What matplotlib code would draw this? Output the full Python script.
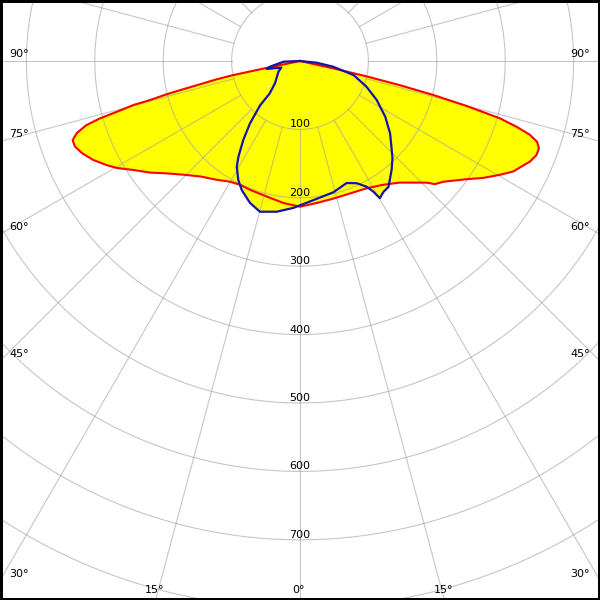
import numpy as np
import matplotlib
matplotlib.use("Agg")
import matplotlib.pyplot as plt
from matplotlib.patches import Rectangle

# ---- data: luminous intensity (cd) vs. gamma angle (deg), signed: left <0, right >0
red_angles = [-79.0, -78.3, -78.1, -77.6, -76.9, -76.4, -76.0, -75.4, -75.2, -74.5,
              -74.0, -73.3, -72.1, -70.8, -69.2, -67.1, -64.4, -61.7, -59.7, -56.8,
              -53.3, -49.9, -45.7, -40.8, -35.0, -30.1, -25.8, -21.2, -13.8, -6.7,
              0.0, 6.7, 13.6, 20.7, 27.6, 33.9, 39.4, 46.2, 47.6, 49.9,
              54.7, 57.5, 60.3, 62.6, 66.4, 68.3, 69.9, 71.2, 72.2, 73.1,
              74.0, 74.9, 75.7, 76.4, 77.0, 77.5, 78.0]
red_values = [0, 50, 100, 125, 150, 176, 201, 227, 252, 278,
              304, 326, 343, 352, 352, 346, 335, 321, 310, 291,
              273, 255, 238, 223, 212, 204, 201, 202, 204, 209,
              213, 209, 207, 207, 210, 218, 230, 257, 267, 274,
              299, 318, 336, 351, 367, 372, 372, 366, 353, 331,
              304, 252, 201, 150, 100, 50, 0]

blue_angles = [-90.0, -87.6, -79.2, -76.5, -70.6, -63.8, -48.3, -43.0, -42.0, -38.7,
               -35.7, -32.8, -30.9, -27.4, -24.3, -19.4, -14.9, -8.8, -2.6, 0.0,
               6.9, 14.3, 20.9, 24.9, 27.9, 29.3, 30.2, 32.5, 35.1, 40.1,
               43.6, 46.9, 51.2, 56.8, 63.0, 68.9, 75.3, 80.3, 84.2, 90.0]
blue_values = [0, 24, 45, 50, 29, 35, 49, 65, 87, 117,
               142, 166, 180, 196, 207, 220, 228, 223, 215, 211,
               203, 198, 191, 197, 208, 219, 232, 227, 225, 208,
               196, 183, 169, 149, 126, 104, 81, 49, 24, 0]

ring_values = [100, 200, 300, 400, 500, 600, 700, 800, 900, 1000]
ring_labels = ["100", "200", "300", "400", "500", "600", "700"]
angle_labels = [0, 15, 30, 45, 60, 75, 90]

# ---- figure
W = H = 600
fig = plt.figure(figsize=(6, 6), dpi=100, facecolor="white")
px_per_cd = 0.684
rmax = 1000
rad_frac = rmax * px_per_cd / W
cx, cy = 0.5, 1 - 61 / H
ax = fig.add_axes([cx - rad_frac, cy - rad_frac, 2 * rad_frac, 2 * rad_frac],
                  projection="polar")
ax.set_theta_zero_location("S")
ax.set_theta_direction(1)
ax.set_ylim(0, rmax)
ax.grid(False)
ax.set_xticks([])
ax.set_yticks([])
ax.spines["polar"].set_visible(False)
ax.set_facecolor("white")

ra = np.deg2rad(red_angles)
ba = np.deg2rad(blue_angles)

ax.fill(ra, red_values, color="#ffff00", lw=0, zorder=1)
ax.fill(ba, blue_values, color="#ffff00", lw=0, zorder=1)

gcol = "#a0a0a0"
th = np.linspace(0, 2 * np.pi, 1441)
for r in ring_values:
    ax.plot(th, np.full_like(th, r), color=gcol, alpha=0.6, lw=0.8, zorder=2)
for a in range(0, 360, 15):
    t = np.deg2rad(a)
    ax.plot([t, t], [100, rmax * 1.5], color=gcol, alpha=0.6, lw=0.8, zorder=2)

ax.plot(ra, red_values, color="#ff0000", lw=1.5, zorder=3)
ax.plot(ba, blue_values, color="#1414aa", lw=1.6, zorder=4)

# ring labels on the 0 deg axis
for lab in ring_labels:
    r = float(lab)
    ax.annotate(lab, xy=(0, r), xytext=(0, 2), textcoords="offset pixels",
                ha="center", va="baseline", fontsize=8, color="black",
                zorder=6, annotation_clip=False)

# angle labels where the rays meet the frame
half_w_cd = (W / 2) / px_per_cd
bottom_cd = (H - 61) / px_per_cd
for a in angle_labels:
    g = np.deg2rad(a)
    txt = f"{a}\u00b0"
    if a >= 30:
        r_edge = half_w_cd / np.sin(g)
        ax.annotate(txt, xy=(-g, r_edge), xytext=(9, 4), textcoords="offset pixels",
                    ha="left", va="baseline", fontsize=8, zorder=6,
                    annotation_clip=False)
        ax.annotate(txt, xy=(g, r_edge), xytext=(-10, 4), textcoords="offset pixels",
                    ha="right", va="baseline", fontsize=8, zorder=6,
                    annotation_clip=False)
    else:
        r_edge = bottom_cd / np.cos(g)
        sides = [g] if a == 0 else [-g, g]
        for s in sides:
            ax.annotate(txt, xy=(s, r_edge), xytext=(-1, 7), textcoords="offset pixels",
                        ha="center", va="baseline", fontsize=8, zorder=6,
                        annotation_clip=False)

fig.patches.append(Rectangle((0, 0), 1, 1, transform=fig.transFigure, fill=False,
                             ec="black", lw=3.6, zorder=10))

fig.savefig("out.png", dpi=100)
